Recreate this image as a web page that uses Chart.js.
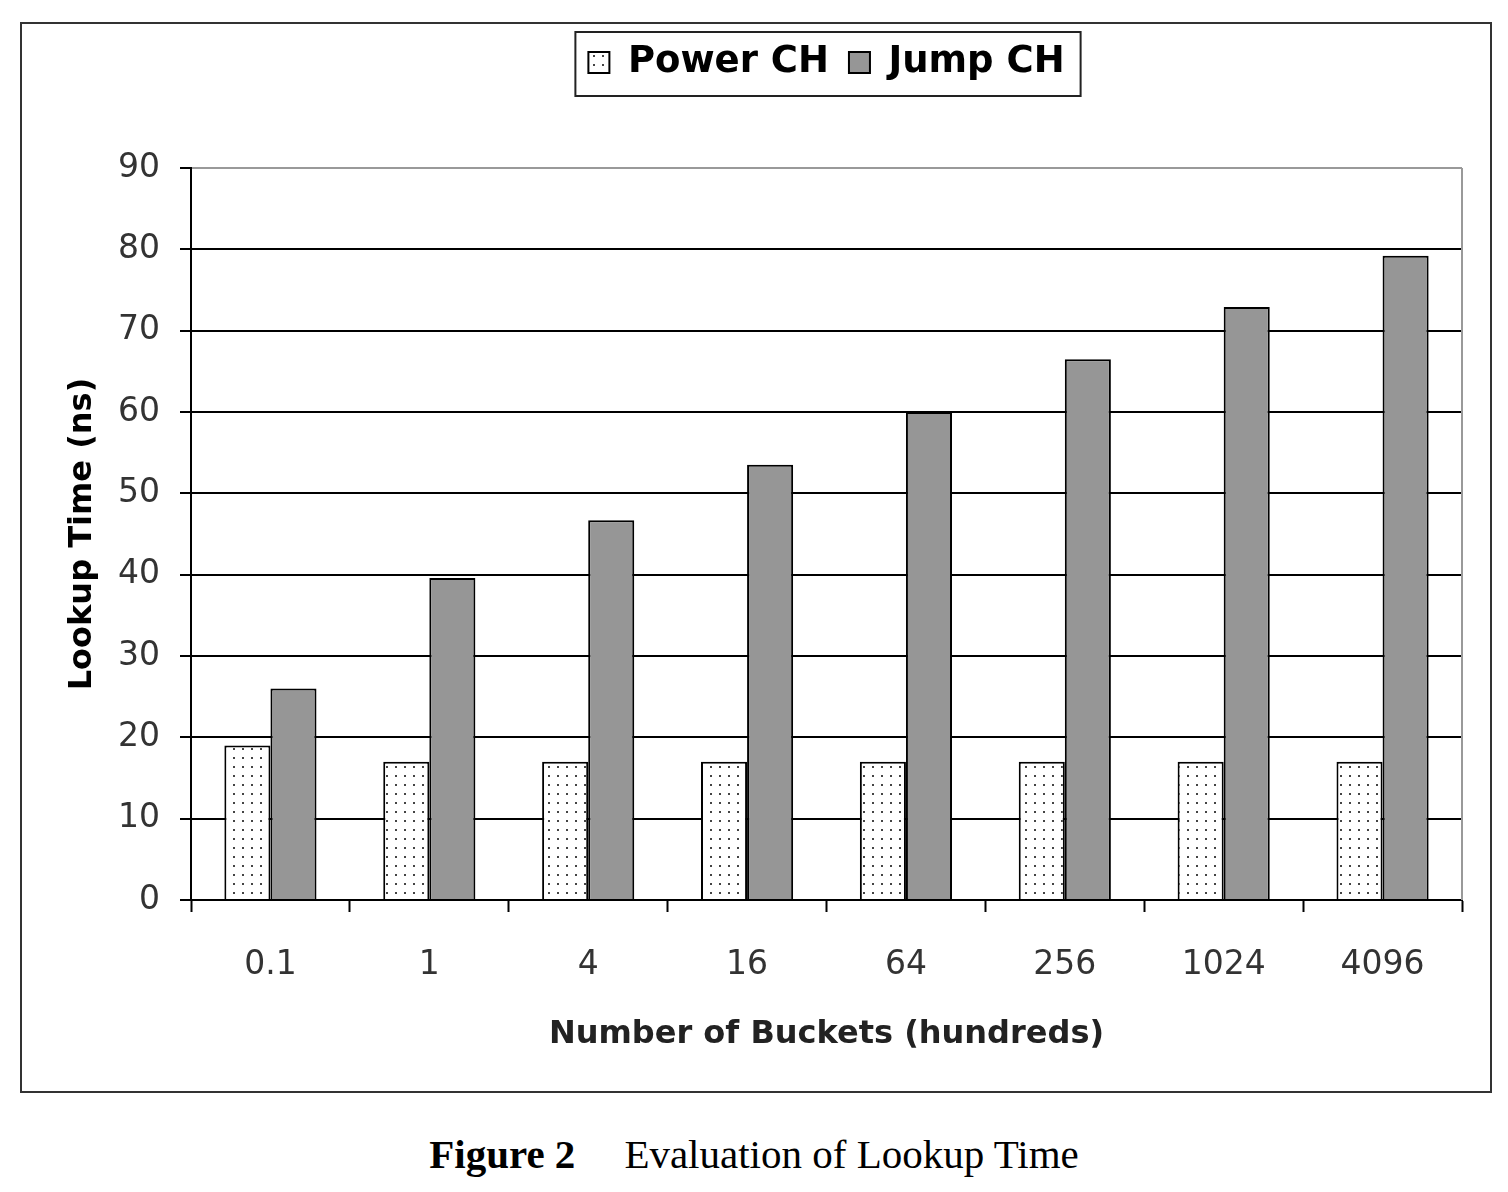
<!DOCTYPE html>
<html>
<head>
<meta charset="utf-8">
<script src="https://cdn.jsdelivr.net/npm/chart.js@4"></script>
<style>
  body { margin: 0; background: #fff; width: 1508px; height: 1192px; position: relative; overflow: hidden; }
  #frame { position: absolute; left: 20px; top: 22px; width: 1468px; height: 1067px; border: 2px solid #333; }
  #caption { position: absolute; left: 0; top: 1130px; width: 1508px; text-align: center;
             font-family: "Liberation Serif", "Times New Roman", serif; font-size: 41px; color: #000; }
  #caption b { margin-right: 49px; }
</style>
</head>
<body>
<div id="frame"><canvas id="chart" width="1468" height="1067"></canvas></div>
<div id="caption"><b>Figure 2</b>Evaluation of Lookup Time</div>
<script>
const buckets = ['0.1', '1', '4', '16', '64', '256', '1024', '4096'];
const powerCH = [19, 17, 17, 17, 17, 17, 17, 17];
const jumpCH = [26, 39.6, 46.7, 53.5, 60, 66.5, 72.9, 79.2];
const yTicks = [0, 10, 20, 30, 40, 50, 60, 70, 80, 90];

// dotted fill like the old Excel pattern
function dotPattern() {
    const c = document.createElement('canvas');
    c.width = 9; c.height = 9;
    const g = c.getContext('2d');
    g.fillStyle = '#fff';
    g.fillRect(0, 0, 9, 9);
    g.fillStyle = '#444';
    g.fillRect(4, 4, 2, 2);
    return g.createPattern(c, 'repeat');
}

// legend: leave room below it before the plot starts
const legendSpace = {
    id: 'legendSpace',
    beforeLayout(chart) {
        const lg = chart.legend;
        if (lg && !lg._spaced) {
            lg._spaced = true;
            const fit = lg.fit;
            lg.fit = function () {
                fit.call(this);
                this.height = 144;
            };
        }
    }
};

// gray right edge of the plot + box round the legend
const frames = {
    id: 'frames',
    afterDraw(chart) {
        const ctx = chart.ctx, a = chart.chartArea, lg = chart.legend;
        ctx.save();
        ctx.strokeStyle = '#999';
        ctx.lineWidth = 2;
        ctx.beginPath();
        ctx.moveTo(a.right, a.top);
        ctx.lineTo(a.right, a.bottom);
        ctx.stroke();
        const hb = lg.legendHitBoxes;
        const x0 = hb[0].left - 13;
        const x1 = hb[hb.length - 1].left + hb[hb.length - 1].width + 16;
        ctx.strokeStyle = '#222';
        ctx.strokeRect(x0, 8, x1 - x0, 64);
        ctx.restore();
    }
};

new Chart(document.getElementById('chart').getContext('2d'), {
    type: 'bar',
    data: {
        labels: buckets,
        datasets: [{
            label: 'Power CH',
            data: powerCH,
            backgroundColor: dotPattern(),
            borderColor: '#000',
            borderWidth: 2
        }, {
            label: 'Jump CH',
            data: jumpCH,
            backgroundColor: '#969696',
            borderColor: '#000',
            borderWidth: 2
        }]
    },
    options: {
        responsive: false,
        animation: false,
        layout: { padding: { left: 0, right: 28, top: 0, bottom: 0 } },
        datasets: { bar: { categoryPercentage: 0.58, barPercentage: 1 } },
        plugins: {
            legend: {
                position: 'top',
                fullSize: false,
                labels: {
                    font: { family: 'DejaVu Sans', weight: 'bold', size: 37 },
                    color: '#000',
                    boxWidth: 21,
                    boxHeight: 21,
                    padding: 20
                }
            },
            tooltip: { enabled: false }
        },
        scales: {
            x: {
                grid: { drawOnChartArea: false, tickLength: 12, tickColor: '#000', tickWidth: 2 },
                border: { color: '#000', width: 2 },
                ticks: { font: { family: 'DejaVu Sans', size: 33 }, color: '#333', padding: 34 },
                title: {
                    display: true,
                    text: 'Number of Buckets (hundreds)',
                    font: { family: 'DejaVu Sans', weight: 'bold', size: 32 },
                    color: '#222',
                    padding: { top: 0, bottom: 37 }
                },
                afterFit(s) { s.height = 191; }
            },
            y: {
                min: 0,
                max: 90,
                afterBuildTicks(s) { s.ticks = yTicks.map(v => ({ value: v })); },
                grid: {
                    color: c => c.tick && c.tick.value === 90 ? '#999' : '#000',
                    lineWidth: 2,
                    tickLength: 11,
                    tickColor: '#000',
                    tickWidth: 2
                },
                border: { color: '#000', width: 2 },
                ticks: { font: { family: 'DejaVu Sans', size: 33 }, color: '#333', padding: 20 },
                title: {
                    display: true,
                    text: 'Lookup Time (ns)',
                    font: { family: 'DejaVu Sans', weight: 'bold', size: 32 },
                    color: '#000',
                    padding: { top: 41, bottom: 0 }
                },
                afterFit(s) { s.width = 169; }
            }
        }
    },
    plugins: [legendSpace, frames]
});
</script>
</body>
</html>
